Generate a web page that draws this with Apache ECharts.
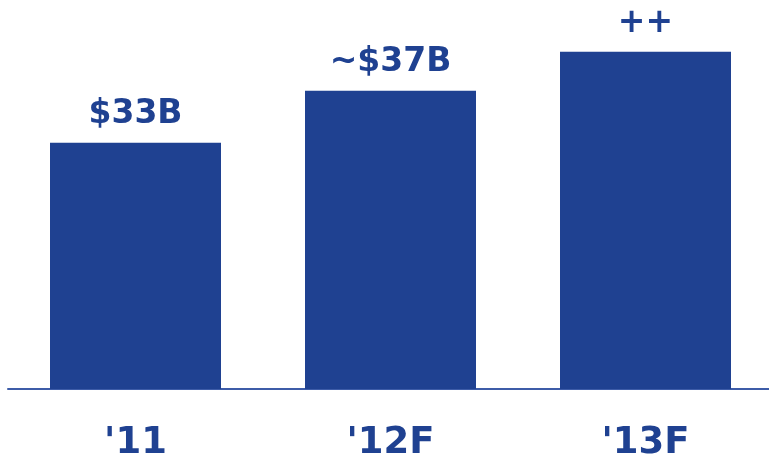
<!DOCTYPE html>
<html><head><meta charset="utf-8">
<script src="https://cdn.jsdelivr.net/npm/echarts@6/dist/echarts.min.js"></script>
<style>html,body{margin:0;padding:0;background:#fff}#c{width:769px;height:459px}</style>
</head><body><div id="c"></div>
<script>
const categories = ["'11", "'12F", "'13F"];
const values = [33, 37, 40];
const barLabels = ["$33B", "~$37B", "++"];

const chart = echarts.init(document.getElementById('c'));
chart.setOption({
  animation: false,
  grid: { left: 8, right: -4, top: 0, bottom: 70, containLabel: false, outerBoundsMode: 'none' },
  xAxis: {
    type: 'category', data: categories,
    axisLine: { lineStyle: { color: '#3d5ca8', width: 2 } },
    axisTick: { show: false },
    axisLabel: { color: '#1f4191', fontFamily: 'DejaVu Sans', fontWeight: 'bold', fontSize: 37, margin: 36 }
  },
  yAxis: { type: 'value', min: 14, max: 44, show: false, splitLine: { show: false } },
  series: [{
    type: 'bar', data: values, barWidth: 171,
    itemStyle: { color: '#1f4191' },
    label: {
      show: true, position: 'top', distance: 12,
      color: '#1f4191', fontFamily: 'DejaVu Sans', fontWeight: 'bold', fontSize: 33,
      formatter: p => barLabels[p.dataIndex]
    }
  }]
});
</script></body></html>
